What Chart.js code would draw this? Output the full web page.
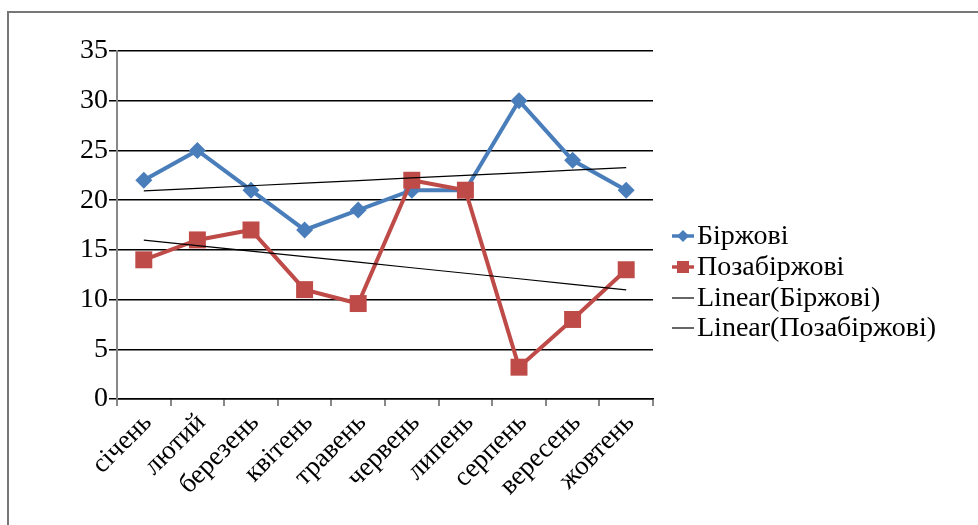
<!DOCTYPE html>
<html>
<head>
<meta charset="utf-8">
<script src="https://cdn.jsdelivr.net/npm/chart.js@4/dist/chart.umd.min.js"></script>
<style>
  html, body { margin: 0; padding: 0; background: #fff; }
  #wrap { position: relative; width: 978px; height: 525px; }
</style>
</head>
<body>
<div id="wrap"><canvas id="c" width="978" height="525"></canvas></div>
<script>
// Months (categories)
const months = ['січень', 'лютий', 'березень', 'квітень', 'травень', 'червень', 'липень', 'серпень', 'вересень', 'жовтень'];
// Exchange (Біржові) values
const exchange = [22, 25, 21, 17, 19, 21, 21, 30, 24, 21];
// Over-the-counter (Позабіржові) values
const otc = [14, 16, 17, 11, 9.6, 22, 21, 3.2, 8, 13];
// Y axis ticks
const yTicks = [0, 5, 10, 15, 20, 25, 30, 35];

const BLUE = '#4a7ebb';
const RED = '#be4b48';
const FONT = '"Liberation Serif", "Times New Roman", serif';

// Least-squares linear trend over category index
function linearTrend(values) {
  const n = values.length;
  const xs = values.map((_, i) => i + 1);
  const mx = xs.reduce((a, b) => a + b, 0) / n;
  const my = values.reduce((a, b) => a + b, 0) / n;
  let sxy = 0, sxx = 0;
  for (let i = 0; i < n; i++) {
    sxy += (xs[i] - mx) * (values[i] - my);
    sxx += (xs[i] - mx) * (xs[i] - mx);
  }
  const k = sxy / sxx;
  return xs.map(x => my + k * (x - mx));
}

const legendItems = [
  { text: 'Біржові', color: BLUE, marker: 'diamond', lw: 3.5 },
  { text: 'Позабіржові', color: RED, marker: 'square', lw: 3.5 },
  { text: 'Linear(Біржові)', color: '#000', marker: null, lw: 1.2 },
  { text: 'Linear(Позабіржові)', color: '#000', marker: null, lw: 1.2 }
];

// Outer frame (top and left edges) and right-side legend
const decor = {
  id: 'decor',
  beforeDraw(chart) {
    const ctx = chart.ctx;
    ctx.save();
    ctx.strokeStyle = '#777';
    ctx.lineWidth = 2;
    ctx.beginPath();
    ctx.moveTo(8, 525);
    ctx.lineTo(8, 12);
    ctx.lineTo(978, 12);
    ctx.stroke();
    ctx.restore();
  },
  afterDraw(chart) {
    const ctx = chart.ctx;
    ctx.save();
    const x0 = 672, x1 = 694, mx = 683, tx = 697;
    const rows = [236, 267, 298, 328];
    legendItems.forEach((it, i) => {
      const y = rows[i];
      ctx.strokeStyle = it.color;
      ctx.lineWidth = it.lw;
      ctx.beginPath();
      ctx.moveTo(x0, y);
      ctx.lineTo(x1, y);
      ctx.stroke();
      ctx.fillStyle = it.color;
      if (it.marker === 'diamond') {
        ctx.beginPath();
        ctx.moveTo(mx, y - 6);
        ctx.lineTo(mx + 6, y);
        ctx.lineTo(mx, y + 6);
        ctx.lineTo(mx - 6, y);
        ctx.closePath();
        ctx.fill();
      } else if (it.marker === 'square') {
        ctx.fillRect(mx - 6, y - 6, 12, 12);
      }
      ctx.fillStyle = '#000';
      ctx.font = '28px ' + FONT;
      ctx.textBaseline = 'middle';
      ctx.textAlign = 'left';
      ctx.fillText(it.text, tx, y + 1);
    });
    ctx.restore();
  }
};

new Chart(document.getElementById('c'), {
  type: 'line',
  data: {
    labels: months,
    datasets: [
      {
        label: 'Linear(Біржові)',
        data: linearTrend(exchange),
        borderColor: '#000',
        borderWidth: 1.2,
        pointRadius: 0,
        order: 0
      },
      {
        label: 'Linear(Позабіржові)',
        data: linearTrend(otc),
        borderColor: '#000',
        borderWidth: 1.2,
        pointRadius: 0,
        order: 0
      },
      {
        label: 'Позабіржові',
        data: otc,
        borderColor: RED,
        backgroundColor: RED,
        borderWidth: 4,
        pointStyle: 'rect',
        pointRadius: 12,
        pointBorderWidth: 0,
        order: 1
      },
      {
        label: 'Біржові',
        data: exchange,
        borderColor: BLUE,
        backgroundColor: BLUE,
        borderWidth: 4,
        pointStyle: 'rectRot',
        pointRadius: 8.5,
        pointBorderWidth: 0,
        order: 2
      }
    ]
  },
  options: {
    responsive: false,
    animation: false,
    devicePixelRatio: 1,
    layout: { padding: { left: 0, top: 51, right: 325, bottom: 0 } },
    plugins: {
      legend: { display: false },
      tooltip: { enabled: false }
    },
    scales: {
      x: {
        offset: true,
        grid: {
          offset: true,
          drawOnChartArea: false,
          color: '#888',
          lineWidth: 2,
          tickLength: 7
        },
        border: { color: '#000', width: 1.5 },
        ticks: {
          autoSkip: false,
          minRotation: 45,
          maxRotation: 45,
          padding: 1,
          labelOffset: 4,
          color: '#000',
          font: { family: FONT, size: 27 }
        },
        afterFit(s) { s.height = 126; }
      },
      y: {
        min: 0,
        max: 35,
        afterBuildTicks(s) { s.ticks = yTicks.map(v => ({ value: v })); },
        grid: {
          color: '#000',
          lineWidth: 1.5,
          tickLength: 8
        },
        border: { color: '#888', width: 2 },
        ticks: {
          padding: 1,
          color: '#000',
          font: { family: FONT, size: 28 }
        },
        afterFit(s) { s.width = 117; }
      }
    }
  },
  plugins: [decor]
});
</script>
</body>
</html>
